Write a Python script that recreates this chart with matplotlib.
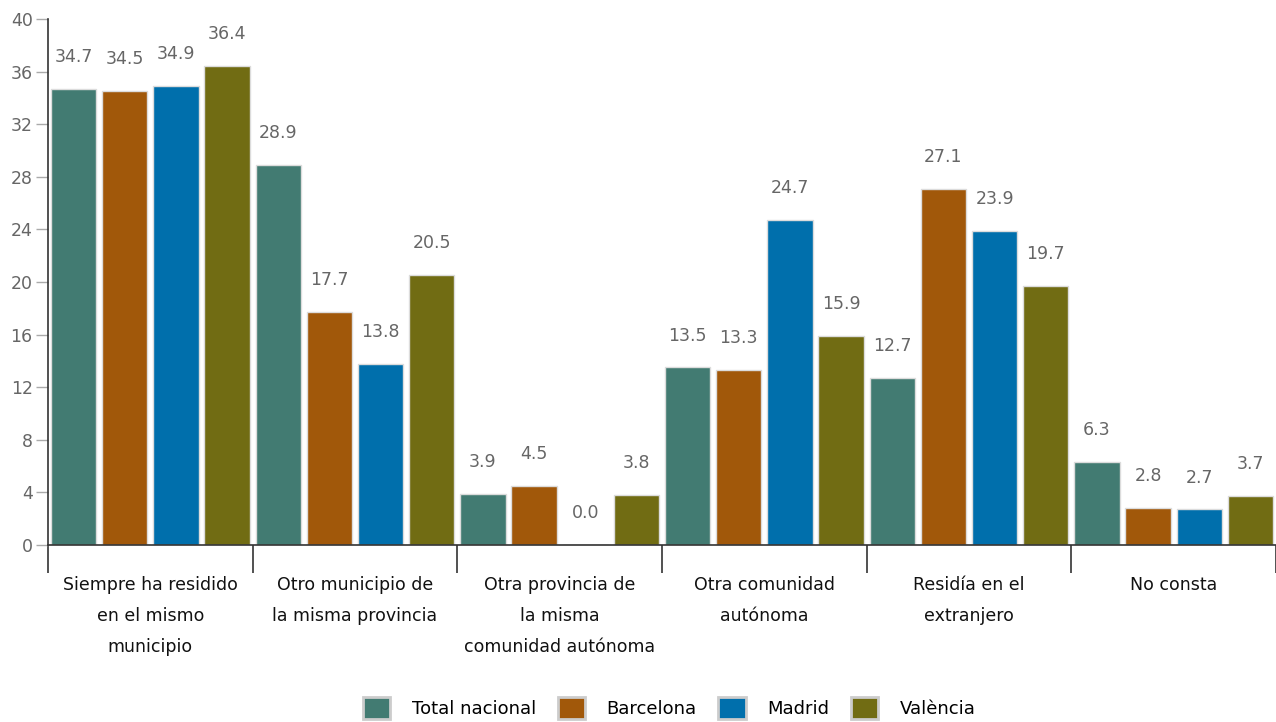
import numpy as np
import matplotlib.pyplot as plt

categories = ["Siempre ha residido\nen el mismo\nmunicipio",
              "Otro municipio de\nla misma provincia",
              "Otra provincia de\nla misma\ncomunidad autónoma",
              "Otra comunidad\nautónoma",
              "Residía en el\nextranjero",
              "No consta"]
series = ["Total nacional", "Barcelona", "Madrid", "València"]
total_nacional = [34.7, 28.9, 3.9, 13.5, 12.7, 6.3]
barcelona = [34.5, 17.7, 4.5, 13.3, 27.1, 2.8]
madrid = [34.9, 13.8, 0.0, 24.7, 23.9, 2.7]
valencia = [36.4, 20.5, 3.8, 15.9, 19.7, 3.7]
colors = ["#427b72", "#a1580a", "#006fac", "#716c13"]

values = [total_nacional, barcelona, madrid, valencia]

fig = plt.figure(figsize=(12.76, 7.22), dpi=100)
ax = fig.add_axes([0.0376, 0.2452, 0.9624, 0.7285])

x = np.arange(len(categories))
slot = 0.25
for i, (name, vals) in enumerate(zip(series, values)):
    pos = x - 0.5 + slot * (i + 0.5)
    ax.bar(pos, vals, width=0.222, color=colors[i], edgecolor="#dcdcdc",
           linewidth=1, label=name)
    for p, v in zip(pos, vals):
        ax.annotate(f"{v:.1f}", (p, v), xytext=(0, 23), textcoords="offset points",
                    ha="center", va="center", fontsize=12.5, color="#666666")

ax.set_xlim(-0.5, 5.5)
ax.set_ylim(0, 40)
ax.set_yticks(np.arange(0, 41, 4))
ax.tick_params(axis="y", length=9, width=1, color="#aaaaaa", labelcolor="#666666",
               labelsize=12.5, pad=2)

ax.set_xticks(np.arange(-0.5, 6, 1))
ax.set_xticklabels([])
ax.tick_params(axis="x", which="major", length=20, width=1.2, color="#333333")
ax.set_xticks(x, categories, minor=True)
ax.tick_params(axis="x", which="minor", length=0, pad=22, labelsize=12.5, labelcolor="#111111")
for lab in ax.get_xticklabels(minor=True):
    lab.set_linespacing(1.95)

for s in ["top", "right"]:
    ax.spines[s].set_visible(False)
ax.spines["left"].set_color("#333333")
ax.spines["bottom"].set_color("#333333")
ax.spines["left"].set_linewidth(1.2)
ax.spines["bottom"].set_linewidth(1.2)

leg = ax.legend(loc="lower center", bbox_to_anchor=(0.506, -0.362), ncol=4,
                frameon=False, fontsize=13, handlelength=1.5, handleheight=1.5,
                handletextpad=1.2, columnspacing=1.2)
for h in leg.legend_handles:
    h.set_edgecolor("#cccccc")
    h.set_linewidth(2)

fig.savefig("out.png", dpi=100)
